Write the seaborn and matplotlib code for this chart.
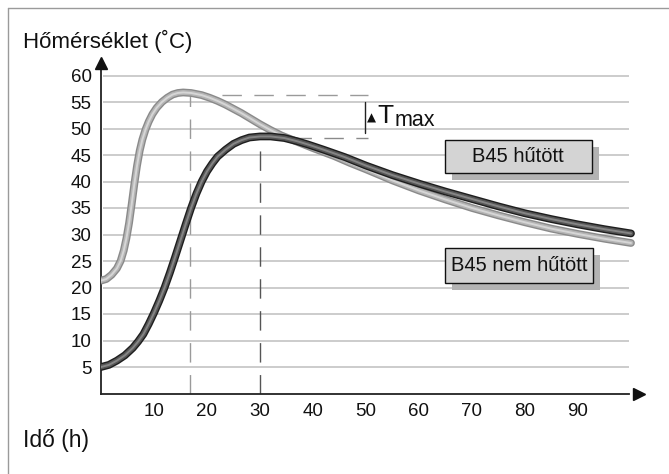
import matplotlib
matplotlib.use("Agg")
import matplotlib.pyplot as plt
import seaborn as sns
import pandas as pd
from matplotlib.patches import Rectangle

# ---------------- data ----------------
hours_light = [0, 1, 2, 3, 3.7, 4.3, 4.8, 5.3, 5.8, 6.3, 6.8, 7.3, 7.8, 8.4, 9, 9.7,
               10.5, 11.5, 12.5, 13.5, 14.5, 15.5, 17, 19, 20.5, 22, 23.5, 25, 26.5,
               28, 30, 32, 34, 37, 40, 44, 47, 50, 55, 60, 65, 70, 75, 80, 85, 90,
               95, 100]
temp_light = [21.3, 21.6, 22.4, 23.6, 25.0, 27.0, 29.3, 32.2, 35.8, 39.6, 43.0, 45.8,
              47.9, 49.8, 51.3, 52.7, 53.9, 55.0, 55.8, 56.4, 56.7, 56.8, 56.7, 56.3,
              55.8, 55.2, 54.5, 53.7, 52.9, 52.0, 50.8, 49.7, 48.7, 47.5, 46.3, 44.8,
              43.5, 42.3, 40.2, 38.3, 36.6, 35.0, 33.6, 32.3, 31.1, 30.1, 29.2, 28.4]

hours_dark = [0, 1.5, 3, 4.5, 6, 7, 8, 9, 10, 11, 12, 13, 14, 15, 16, 17, 18, 19, 20,
              21, 22, 23.5, 25, 26.5, 28, 30, 32, 34.6, 37, 39, 42, 46, 50, 55, 60, 65,
              70, 75, 80, 85, 90, 95, 100]
temp_dark = [5.0, 5.4, 6.2, 7.2, 8.6, 9.8, 11.2, 13.1, 15.2, 17.5, 20.0, 22.8, 25.8,
             28.9, 32.0, 35.0, 37.7, 40.0, 41.9, 43.4, 44.7, 46.0, 47.1, 47.8, 48.3,
             48.5, 48.5, 48.2, 47.6, 47.0, 46.0, 44.6, 43.0, 41.2, 39.6, 38.1, 36.7,
             35.3, 34.0, 32.9, 31.9, 31.0, 30.2]

y_ticks = [5, 10, 15, 20, 25, 30, 35, 40, 45, 50, 55, 60]
x_ticks = [10, 20, 30, 40, 50, 60, 70, 80, 90]

title_text = "Hőmérséklet (˚C)"
xlabel_text = "Idő (h)"
label_cooled = "B45 hűtött"
label_uncooled = "B45 nem hűtött"

# Tmax annotation points (peak markers of the two curves)
peak_light = (16.7, 56.3)
peak_dark = (30.0, 48.2)
bracket_x = 49.8

df = pd.concat([
    pd.DataFrame({"x": hours_light, "T": temp_light, "series": "light"}),
    pd.DataFrame({"x": hours_dark, "T": temp_dark, "series": "dark"}),
], ignore_index=True)

# ---------------- style ----------------
sns.set_theme(style="white")
plt.rcParams["font.family"] = ["Liberation Sans", "DejaVu Sans"]

W, H = 669, 474
fig = plt.figure(figsize=(W / 100, H / 100), dpi=100)
fig.patch.set_facecolor("white")

px_per_unit = 5.3
x0_px, y0_px = 101, 393.5
xmax, ymax = 103, 63.5
ax = fig.add_axes([x0_px / W, (H - y0_px) / H,
                   xmax * px_per_unit / W, ymax * px_per_unit / H])
ax.set_xlim(0, xmax)
ax.set_ylim(0, ymax)
ax.set_facecolor("white")

# gridlines
ax.hlines(y_ticks, 0.3, 99.6, colors="#c8c8c8", linewidth=1.3, zorder=1)

# dashed guide lines
dash = (0, (14, 9))
ax.plot([peak_light[0], peak_light[0]], [0, peak_light[1]], color="#9a9a9a", lw=1.0,
        linestyle=dash, zorder=2)
ax.plot([peak_light[0], 50.3], [peak_light[1], peak_light[1]], color="#9a9a9a", lw=1.0,
        linestyle=dash, zorder=2)
ax.plot([peak_dark[0], peak_dark[0]], [0, peak_dark[1]], color="#555555", lw=1.0,
        linestyle=dash, zorder=2)
ax.plot([peak_dark[0], 50.3], [peak_dark[1], peak_dark[1]], color="#8a8a8a", lw=1.0,
        linestyle=dash, zorder=2)
ax.plot([bracket_x, bracket_x], [49.2, 55.05], color="#222222", lw=1.0, zorder=2)

# tube-like curves
layers = {
    "light": [("#8a8a8a", 5.6), ("#b4b4b4", 3.6), ("#d6d6d6", 1.4)],
    "dark": [("#1e1e1e", 5.6), ("#555555", 3.6), ("#858585", 1.4)],
}
z = 3
for name in ["light", "dark"]:
    sub = df[df["series"] == name]
    for color, lw in layers[name]:
        n_before = len(ax.lines)
        sns.lineplot(data=sub, x="x", y="T", color=color, linewidth=lw, ax=ax,
                     sort=False, estimator=None, legend=False)
        for ln in ax.lines[n_before:]:
            ln.set_solid_capstyle("round")
            ln.set_solid_joinstyle("round")
            ln.set_zorder(z)
        z += 0.1

# label boxes with shadows
def label_box(x1, x2, y1, y2, text):
    sx, sy = 7 / px_per_unit, 7 / px_per_unit
    ax.add_patch(Rectangle((x1 + sx, y1 - sy), x2 - x1, y2 - y1, facecolor="#b3b3b3",
                           edgecolor="none", zorder=5))
    ax.add_patch(Rectangle((x1, y1), x2 - x1, y2 - y1, facecolor="#d4d4d4",
                           edgecolor="#111111", linewidth=1.0, zorder=6))
    ax.text((x1 + x2) / 2, (y1 + y2) / 2, text, ha="center", va="center",
            fontsize=14.5, color="#111111", zorder=7)

label_box(64.9, 92.6, 41.6, 47.8, label_cooled)
label_box(64.9, 92.8, 20.8, 27.5, label_uncooled)

# delta T max annotation
ax.text(51.1, 52.0, "▲", fontsize=8.5, ha="center", va="center", color="#111111",
        family=["DejaVu Sans"], zorder=7)
ax.text(52.2, 51.1, "T", fontsize=19, ha="left", va="baseline", color="#111111", zorder=7)
ax.text(55.4, 50.4, "max", fontsize=15.5, ha="left", va="baseline", color="#111111",
        zorder=7)

# axes styling
for s in ["top", "right"]:
    ax.spines[s].set_visible(False)
for s in ["left", "bottom"]:
    ax.spines[s].set_color("#222222")
    ax.spines[s].set_linewidth(1.3)
ax.spines["left"].set_bounds(0, 61.6)
ax.spines["bottom"].set_bounds(0, 99.6)

ax.set_xticks(x_ticks)
ax.set_yticks(y_ticks)
ax.set_xticklabels([str(t) for t in x_ticks])
ax.set_yticklabels([str(t) for t in y_ticks])
ax.tick_params(axis="both", direction="out", length=4.3, width=1.1, color="#222222",
               labelsize=13.5, labelcolor="#111111")
ax.tick_params(axis="y", pad=2.4)
ax.tick_params(axis="x", pad=2.5)
ax.set_xlabel("")
ax.set_ylabel("")

# axis arrows
ax.plot([0], [62.4], marker="^", markersize=9, color="#111111", clip_on=False, zorder=8)
ax.plot([101.6], [0], marker=">", markersize=9, color="#111111", clip_on=False, zorder=8)

# titles
fig.text(23 / W, 1 - 48 / H, title_text, fontsize=16, ha="left", va="baseline",
         color="#111111")
fig.text(23 / W, 1 - 447 / H, xlabel_text, fontsize=16.5, ha="left", va="baseline",
         color="#111111")

# outer frame lines
fig.add_artist(plt.Line2D([8 / W, 8 / W], [0, 1 - 8 / H], transform=fig.transFigure,
                          color="#9a9a9a", lw=1.0))
fig.add_artist(plt.Line2D([8 / W, 1], [1 - 8 / H, 1 - 8 / H], transform=fig.transFigure,
                          color="#9a9a9a", lw=1.0))

fig.savefig("out.png", dpi=100, facecolor="white")
